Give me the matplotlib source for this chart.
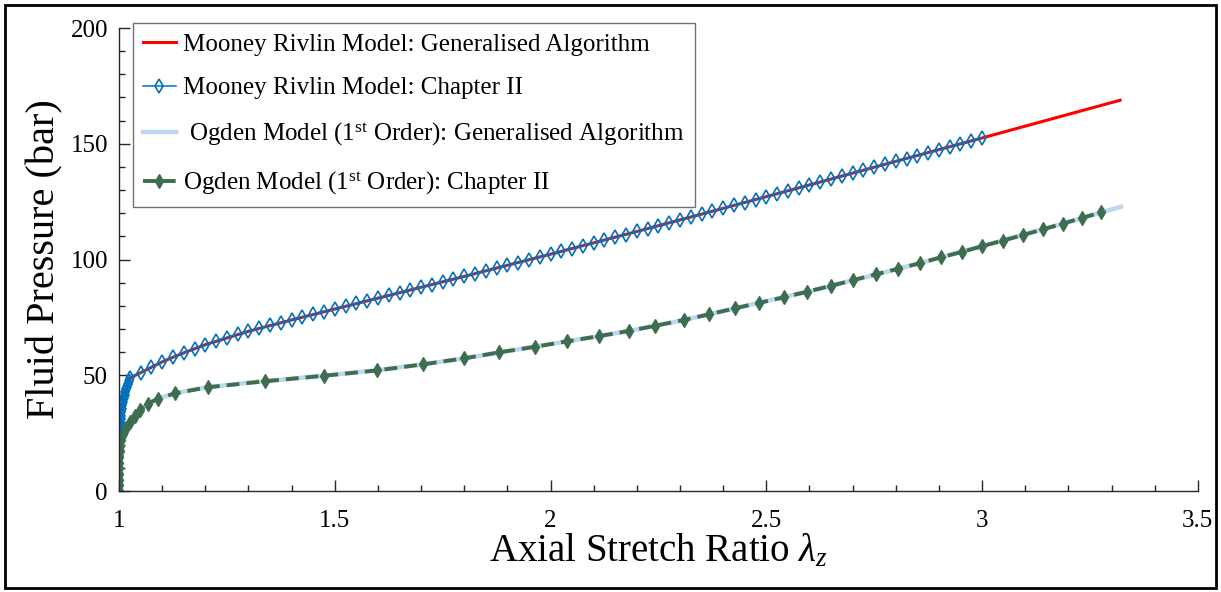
import matplotlib
matplotlib.use("Agg")
import matplotlib.pyplot as plt
from matplotlib.patches import Rectangle

plt.rcParams['font.family'] = ['Liberation Serif', 'DejaVu Serif']
plt.rcParams['mathtext.fontset'] = 'custom'
plt.rcParams['mathtext.rm'] = 'Liberation Serif'
plt.rcParams['mathtext.it'] = 'Liberation Serif:italic'


# Mooney Rivlin - generalised algorithm (continuous curve)
mr_gen_stretch = [1.0, 1.0002, 1.0005, 1.001, 1.002, 1.0035, 1.0055, 1.008, 1.011, 1.0145,
                  1.0185, 1.0227, 1.025, 1.05, 1.1, 1.15, 1.2, 1.3, 1.4, 1.5, 1.6, 1.7, 1.8,
                  1.9, 2.0, 2.2, 2.4, 2.6, 2.8, 3.0, 3.1, 3.2, 3.32]
mr_gen_pressure = [0.0, 15.0, 19.5, 23.0, 27.5, 31.0, 34.0, 37.0, 40.0, 42.6,
                   45.1, 47.6, 48.8, 51.1, 55.8, 59.7, 63.2, 69.0, 73.9, 78.6, 83.3, 88.0, 92.7,
                   97.5, 102.3, 112.1, 122.1, 132.2, 142.4, 152.5, 157.6, 162.7, 168.8]

# Mooney Rivlin - chapter II points
mr_ch2_stretch = [1.0, 1.0002, 1.0004, 1.0006, 1.0008, 1.001, 1.0013, 1.0016, 1.002, 1.0025,
                  1.003, 1.0035, 1.0045, 1.0055, 1.0067, 1.008, 1.0095, 1.011, 1.0127, 1.0145,
                  1.0165, 1.0185, 1.0205, 1.0227,
                  1.025, 1.05, 1.075, 1.1, 1.125, 1.15, 1.175, 1.2, 1.225, 1.25,
                  1.275, 1.3, 1.325, 1.35, 1.375, 1.4, 1.425, 1.45, 1.475, 1.5,
                  1.525, 1.55, 1.575, 1.6, 1.625, 1.65, 1.675, 1.7, 1.725, 1.75,
                  1.775, 1.8, 1.825, 1.85, 1.875, 1.9, 1.925, 1.95, 1.975, 2.0,
                  2.025, 2.05, 2.075, 2.1, 2.125, 2.15, 2.175, 2.2, 2.225, 2.25,
                  2.275, 2.3, 2.325, 2.35, 2.375, 2.4, 2.425, 2.45, 2.475, 2.5,
                  2.525, 2.55, 2.575, 2.6, 2.625, 2.65, 2.675, 2.7, 2.725, 2.75,
                  2.775, 2.8, 2.825, 2.85, 2.875, 2.9, 2.925, 2.95, 2.975, 3.0]
mr_ch2_pressure = [0.0, 15.0, 17.5, 19.5, 21.3, 23.0, 24.5, 25.8, 27.5, 28.5,
                   29.5, 31.0, 32.5, 34.0, 35.5, 37.0, 38.5, 40.0, 41.3, 42.6,
                   43.9, 45.1, 46.3, 47.6,
                   48.8, 51.1, 53.6, 55.8, 57.8, 59.7, 61.5, 63.2, 64.8, 66.3,
                   67.7, 69.0, 70.3, 71.5, 72.7, 73.9, 75.1, 76.3, 77.5, 78.6,
                   79.8, 81.0, 82.2, 83.3, 84.5, 85.7, 86.9, 88.0, 89.2, 90.4,
                   91.5, 92.7, 93.9, 95.1, 96.3, 97.5, 98.7, 99.9, 101.1, 102.3,
                   103.5, 104.7, 105.9, 107.1, 108.4, 109.6, 110.8, 112.1, 113.3, 114.6,
                   115.8, 117.1, 118.3, 119.6, 120.8, 122.1, 123.4, 124.6, 125.9, 127.2,
                   128.4, 129.7, 131.0, 132.2, 133.5, 134.8, 136.0, 137.3, 138.6, 139.8,
                   141.1, 142.4, 143.6, 144.9, 146.2, 147.4, 148.7, 150.0, 151.2, 152.5]

# Ogden (1st order) - generalised algorithm
og_gen_stretch = [1.0, 1.0005, 1.001, 1.002, 1.004, 1.009, 1.016, 1.025, 1.036, 1.049,
                  1.066, 1.09, 1.13, 1.2, 1.3, 1.4, 1.5, 1.6, 1.7, 1.8, 1.9, 2.0, 2.1,
                  2.2, 2.3, 2.4, 2.5, 2.6, 2.7, 2.8, 2.9, 3.0, 3.1, 3.2, 3.322]
og_gen_pressure = [0.0, 10.0, 15.0, 20.0, 22.1, 24.5, 27.0, 29.6, 32.3, 35.0,
                   37.6, 39.9, 42.2, 44.7, 46.8, 48.5, 50.3, 52.2, 54.6, 57.3, 60.4, 63.5, 66.5,
                   69.8, 73.5, 77.7, 82.0, 86.3, 91.0, 95.7, 100.7, 105.8, 110.9, 116.2, 122.8]

# Ogden (1st order) - chapter II points
og_ch2_stretch = [1.0, 1.0001, 1.0002, 1.0003, 1.0005, 1.0007, 1.001, 1.0013, 1.0018, 1.004,
                  1.009, 1.016, 1.025, 1.036, 1.049, 1.066, 1.09, 1.13, 1.205, 1.338,
                  1.476, 1.598, 1.704, 1.8, 1.881, 1.964, 2.037, 2.112, 2.181, 2.243,
                  2.309, 2.367, 2.427, 2.484, 2.541, 2.595, 2.649, 2.702, 2.754, 2.806,
                  2.856, 2.904, 2.954, 3.001, 3.049, 3.095, 3.141, 3.187, 3.231, 3.276]
og_ch2_pressure = [0.0, 2.5, 4.9, 7.4, 9.8, 12.3, 14.7, 17.2, 19.6, 22.1,
                   24.5, 27.0, 29.6, 32.3, 35.0, 37.6, 39.9, 42.2, 44.8, 47.4,
                   49.8, 52.1, 54.7, 57.3, 59.9, 62.3, 64.6, 66.9, 69.1, 71.4,
                   73.9, 76.3, 78.9, 81.3, 83.7, 86.1, 88.6, 91.1, 93.6, 96.0,
                   98.4, 100.9, 103.3, 105.8, 108.2, 110.6, 113.0, 115.5, 117.9, 120.4]

labels = ['Mooney Rivlin Model: Generalised Algorithm',
          'Mooney Rivlin Model: Chapter II',
          r' Ogden Model (1$^{\mathrm{st}}$ Order): Generalised Algorithm',
          r'Ogden Model (1$^{\mathrm{st}}$ Order): Chapter II']

fig = plt.figure(figsize=(12.21, 5.92), dpi=100)
ax = fig.add_axes([0.0975, 0.1706, 0.8835, 0.7821])

ax.plot(mr_gen_stretch, mr_gen_pressure, color='#ff0000', lw=2.2, label=labels[0])
ax.plot(mr_ch2_stretch, mr_ch2_pressure, color='#0072bd', lw=1.1, marker='d',
        markersize=7.5, markerfacecolor='none', markeredgewidth=1.2, label=labels[1])
ax.plot(og_gen_stretch, og_gen_pressure, color='#bdd7ee', lw=3.2, label=labels[2])
ax.plot(og_ch2_stretch, og_ch2_pressure, color='#3d6e50', lw=2.8, linestyle=(0, (3.3, 1.8)),
        marker='d', markersize=7.5, markeredgewidth=1.0, label=labels[3])

ax.set_xlim(1, 3.5)
ax.set_ylim(0, 200)
ax.set_xticks([1, 1.5, 2, 2.5, 3, 3.5])
ax.set_xticklabels(['1', '1.5', '2', '2.5', '3', '3.5'])
ax.set_xticks([1 + 0.1 * i for i in range(26)], minor=True)
ax.set_yticks([0, 50, 100, 150, 200])
ax.set_yticks(list(range(0, 201, 10)), minor=True)

for side in ['top', 'right']:
    ax.spines[side].set_visible(False)
for side in ['left', 'bottom']:
    ax.spines[side].set_linewidth(1.0)
    ax.spines[side].set_color('0.15')

ax.tick_params(which='both', direction='in', width=1.0, color='0.15', labelsize=18)
ax.tick_params(which='major', length=8)
ax.tick_params(which='minor', length=4.5)
ax.tick_params(axis='x', which='major', pad=14)
ax.tick_params(axis='y', which='major', pad=8)

ax.set_xlabel(r'Axial Stretch Ratio $\lambda_z$', fontsize=28, labelpad=0)
ax.set_ylabel('Fluid Pressure (bar)', fontsize=29, labelpad=5)

leg = ax.legend(loc='upper left', bbox_to_anchor=(133 / 1221, 1 - 23 / 592),
                bbox_transform=fig.transFigure, fontsize=18, frameon=True, fancybox=False,
                handlelength=1.3, handletextpad=0.3, borderaxespad=0, borderpad=0.4,
                labelspacing=0.85)
leg.get_frame().set_edgecolor('0.3')
leg.get_frame().set_linewidth(1.0)

fig.patches.append(Rectangle((5 / 1221, 4 / 592), 1211 / 1221, 583 / 592, fill=False,
                             lw=2, edgecolor='black', transform=fig.transFigure))

fig.savefig('out.png', dpi=100)
